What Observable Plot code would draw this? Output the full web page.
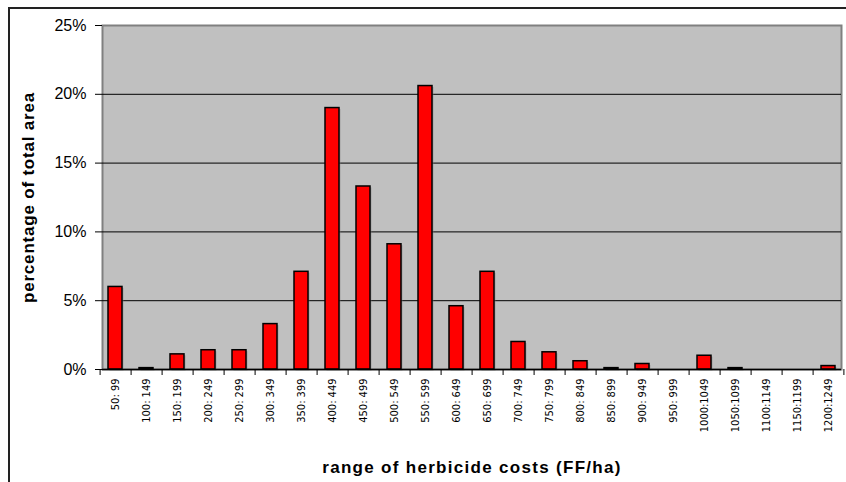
<!DOCTYPE html>
<html>
<head>
<meta charset="utf-8">
<script src="https://cdn.jsdelivr.net/npm/d3@7"></script>
<script src="https://cdn.jsdelivr.net/npm/@observablehq/plot@0.6"></script>
<style>
  html, body { margin: 0; padding: 0; background: #fff; }
  #wrap { position: relative; width: 846px; height: 482px; overflow: hidden; }
  #border { position: absolute; left: 8px; top: 7px; width: 850px; height: 500px; border-left: 2px solid #222; border-top: 2px solid #222; box-sizing: border-box; pointer-events: none; }
  svg { font-family: "Liberation Sans", Arial, sans-serif; }
  g[aria-label="y-axis tick label"] text { font-size: 16px; }
  g[aria-label="x-axis tick label"] text { font-size: 11px; font-family: "DejaVu Sans Condensed", "DejaVu Sans", sans-serif; }
  g[aria-label="y-axis label"] text { font-size: 17px; font-weight: bold; letter-spacing: 0.8px; }
  g[aria-label="x-axis label"] text { font-size: 17px; font-weight: bold; letter-spacing: 1.3px; }
</style>
</head>
<body>
<div id="wrap"><div id="chart"></div><div id="border"></div></div>
<script>
const categories = ["50: 99","100: 149","150: 199","200: 249","250: 299","300: 349","350: 399","400: 449","450: 499","500: 549","550: 599","600: 649","650: 699","700: 749","750: 799","800: 849","850: 899","900: 949","950: 999","1000:1049","1050:1099","1100:1149","1150:1199","1200:1249"];
const shares = [6.0, 0.1, 1.1, 1.4, 1.4, 3.3, 7.1, 19.0, 13.3, 9.1, 20.6, 4.6, 7.1, 2.0, 1.25, 0.6, 0.1, 0.4, 0, 1.0, 0.1, 0, 0, 0.25];
const yTicks = [0, 0.05, 0.10, 0.15, 0.20, 0.25];
const gridTicks = [0.05, 0.10, 0.15, 0.20];

const data = categories.map((c, i) => ({cat: c, v: shares[i] / 100}));

const W = 846, ML = 102, MR = 5;
const step = (W - ML - MR) / categories.length;

const chart = Plot.plot({
  width: W,
  height: 482,
  marginLeft: ML,
  marginRight: MR,
  marginTop: 25,
  marginBottom: 113,
  x: {domain: categories, paddingInner: 0.55, paddingOuter: 0, align: 0.5, label: null},
  y: {domain: [0, 0.25], label: null},
  marks: [
    Plot.frame({fill: "#c0c0c0", stroke: "#808080", strokeWidth: 2}),
    Plot.ruleY(gridTicks, {stroke: "#000", strokeWidth: 1}),
    Plot.barY(data.filter(d => d.v > 0), {x: "cat", y: "v", dx: 1.5, dy: 1.5, fill: "#808080", fillOpacity: 0.5}),
    Plot.barY(data.filter(d => d.v > 0), {x: "cat", y: "v", fill: "#ff0000", stroke: "#000", strokeWidth: 1.5}),
    Plot.ruleY([0], {stroke: "#000", strokeWidth: 1.5}),
    Plot.axisY({ticks: yTicks, tickFormat: d3.format(".0%"), tickSize: 7, tickPadding: 9, label: "percentage of total area", labelAnchor: "center", labelArrow: "none", labelOffset: 81}),
    Plot.axisX({tickRotate: -90, tickSize: 0, tickPadding: 9, label: "range of herbicide costs (FF/ha)", labelAnchor: "center", labelArrow: "none", labelOffset: 103}),
    Plot.axisX({tickSize: 6, tickFormat: () => "", dx: -step / 2, label: null}),
    Plot.axisX({ticks: [categories[categories.length - 1]], tickSize: 6, tickFormat: () => "", dx: step / 2, label: null})
  ]
});
document.getElementById("chart").appendChild(chart);
</script>
</body>
</html>
